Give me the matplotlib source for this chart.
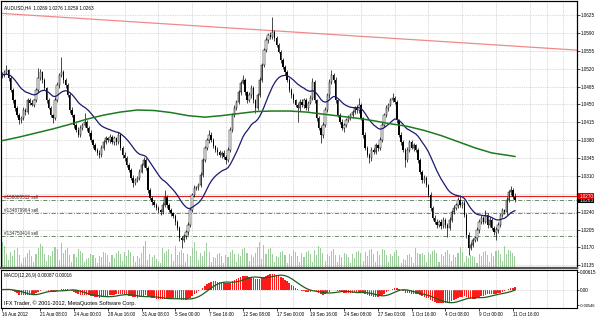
import numpy as np
import pandas as pd
import matplotlib
matplotlib.use("Agg")
import matplotlib.pyplot as plt
import matplotlib.transforms as mtrans

plt.rcParams['font.family'] = ['Liberation Sans', 'DejaVu Sans']

# header
symbol = "AUDUSD,H4"
last_ohlc = [1.0269, 1.0276, 1.0259, 1.0263]

# H4 closes, one per bar (16 Aug 08:00 .. 11 Oct 20:00)
first_open = 1.0505
closes = [
    1.0508, 1.0513, 1.0517, 1.0502, 1.0478, 1.0458, 1.0443, 1.0429, 1.0419, 1.0423, 1.0439, 1.0435, 1.0458, 1.0453, 1.0449, 1.0458,
    1.0478, 1.0502, 1.0513, 1.0498, 1.0482, 1.0458, 1.0443, 1.0429, 1.0423, 1.0458, 1.0488, 1.0508, 1.0513, 1.0498, 1.0488, 1.0468,
    1.0439, 1.0429, 1.0410, 1.0400, 1.0390, 1.0404, 1.0410, 1.0416, 1.0404, 1.0394, 1.0380, 1.0370, 1.0361, 1.0355, 1.0351, 1.0365,
    1.0376, 1.0384, 1.0380, 1.0386, 1.0376, 1.0384, 1.0376, 1.0390, 1.0365, 1.0351, 1.0345, 1.0332, 1.0322, 1.0306, 1.0296, 1.0302,
    1.0306, 1.0318, 1.0332, 1.0341, 1.0326, 1.0282, 1.0267, 1.0259, 1.0253, 1.0247, 1.0243, 1.0239, 1.0253, 1.0269, 1.0253, 1.0243,
    1.0237, 1.0231, 1.0220, 1.0208, 1.0188, 1.0185, 1.0192, 1.0200, 1.0214, 1.0243, 1.0273, 1.0286, 1.0288, 1.0292, 1.0312, 1.0341,
    1.0365, 1.0380, 1.0390, 1.0380, 1.0368, 1.0361, 1.0357, 1.0351, 1.0355, 1.0347, 1.0341, 1.0361, 1.0400, 1.0429, 1.0443, 1.0455,
    1.0474, 1.0492, 1.0498, 1.0474, 1.0458, 1.0468, 1.0482, 1.0458, 1.0443, 1.0468, 1.0498, 1.0527, 1.0556, 1.0576, 1.0586, 1.0582,
    1.0592, 1.0580, 1.0566, 1.0553, 1.0537, 1.0523, 1.0513, 1.0498, 1.0478, 1.0468, 1.0458, 1.0449, 1.0443, 1.0455, 1.0449, 1.0458,
    1.0443, 1.0453, 1.0462, 1.0494, 1.0458, 1.0423, 1.0404, 1.0390, 1.0410, 1.0439, 1.0468, 1.0494, 1.0508, 1.0498, 1.0458, 1.0429,
    1.0416, 1.0404, 1.0410, 1.0419, 1.0423, 1.0429, 1.0435, 1.0443, 1.0439, 1.0449, 1.0423, 1.0390, 1.0365, 1.0351, 1.0345, 1.0361,
    1.0357, 1.0370, 1.0365, 1.0380, 1.0410, 1.0429, 1.0443, 1.0449, 1.0458, 1.0462, 1.0455, 1.0419, 1.0390, 1.0376, 1.0361, 1.0341,
    1.0361, 1.0376, 1.0365, 1.0370, 1.0361, 1.0341, 1.0318, 1.0302, 1.0306, 1.0292, 1.0273, 1.0247, 1.0228, 1.0220, 1.0214, 1.0220,
    1.0212, 1.0224, 1.0214, 1.0208, 1.0224, 1.0239, 1.0247, 1.0253, 1.0263, 1.0253, 1.0257, 1.0234, 1.0194, 1.0169, 1.0175, 1.0185,
    1.0188, 1.0204, 1.0220, 1.0228, 1.0220, 1.0234, 1.0214, 1.0224, 1.0208, 1.0200, 1.0204, 1.0214, 1.0234, 1.0243, 1.0239, 1.0263,
    1.0278, 1.0282, 1.0269, 1.0263,
]
# upper / lower shadows in pips
wick_up = [
    6, 4, 10, 3, 4, 5, 3, 4, 5, 4, 6, 3, 5, 4, 6, 3,
    5, 19, 6, 3, 4, 3, 5, 4, 3, 6, 5, 4, 30, 5, 4, 3,
    4, 5, 3, 4, 6, 5, 4, 17, 3, 4, 5, 3, 4, 3, 5, 6,
    4, 5, 3, 6, 4, 5, 3, 6, 4, 3, 5, 4, 3, 4, 5, 4,
    3, 5, 4, 6, 4, 3, 5, 4, 3, 4, 5, 3, 6, 13, 4, 3,
    4, 3, 5, 4, 3, 4, 5, 4, 6, 5, 4, 6, 3, 5, 6, 5,
    4, 5, 10, 6, 4, 3, 5, 4, 3, 5, 4, 5, 6, 4, 5, 3,
    5, 4, 10, 4, 3, 6, 5, 4, 3, 5, 6, 4, 5, 6, 4, 5,
    29, 4, 3, 5, 4, 3, 4, 5, 3, 4, 5, 3, 4, 6, 5, 4,
    5, 4, 6, 8, 4, 3, 5, 4, 6, 5, 4, 5, 9, 4, 5, 3,
    4, 5, 3, 4, 6, 5, 4, 3, 5, 13, 4, 3, 5, 4, 3, 6,
    4, 5, 3, 6, 5, 4, 5, 3, 4, 10, 5, 4, 3, 5, 4, 3,
    6, 5, 4, 5, 3, 4, 5, 3, 6, 4, 3, 5, 4, 6, 5, 4,
    5, 6, 4, 3, 5, 4, 6, 4, 5, 10, 3, 5, 4, 6, 5, 4,
    4, 5, 6, 5, 4, 9, 3, 5, 4, 3, 5, 6, 4, 5, 3, 6,
    5, 8, 4, 7,
]
wick_dn = [
    4, 5, 3, 6, 4, 5, 6, 4, 7, 5, 3, 6, 4, 5, 3, 4,
    3, 4, 5, 6, 4, 5, 3, 4, 10, 4, 3, 5, 4, 6, 5, 4,
    5, 4, 6, 5, 4, 3, 5, 4, 6, 5, 4, 5, 3, 4, 6, 4,
    5, 4, 3, 5, 4, 6, 5, 3, 4, 5, 6, 4, 5, 4, 8, 3,
    4, 5, 3, 4, 5, 6, 4, 5, 3, 4, 6, 5, 4, 3, 5, 4,
    5, 4, 6, 4, 5, 16, 4, 6, 5, 4, 3, 5, 4, 6, 3, 4,
    3, 4, 5, 3, 4, 5, 6, 4, 5, 4, 8, 3, 4, 5, 3, 4,
    4, 5, 3, 6, 5, 4, 5, 6, 10, 4, 3, 5, 4, 3, 5, 4,
    4, 5, 4, 3, 5, 4, 6, 5, 4, 5, 6, 4, 27, 5, 4, 6,
    4, 5, 3, 4, 6, 5, 4, 16, 5, 4, 3, 5, 4, 6, 5, 4,
    5, 4, 8, 5, 4, 3, 5, 4, 6, 5, 4, 6, 5, 4, 10, 5,
    4, 5, 6, 4, 3, 5, 4, 5, 3, 4, 5, 6, 4, 5, 4, 14,
    4, 5, 3, 6, 4, 5, 4, 6, 5, 4, 5, 6, 4, 5, 6, 4,
    5, 4, 6, 18, 4, 5, 3, 4, 5, 4, 6, 5, 5, 14, 4, 5,
    4, 5, 6, 4, 5, 3, 6, 5, 4, 6, 15, 5, 4, 5, 4, 6,
    4, 5, 4, 4,
]
volumes = [
    26, 22, 14, 8,
    16, 12, 18, 20, 13, 5,
    10, 11, 15, 18, 12, 6,
    14, 20, 24, 22, 14, 7,
    13, 12, 17, 21, 19, 8,
    25, 15, 18, 20, 13, 6,
    14, 11, 19, 17, 15, 6,
    9, 10, 14, 13, 10, 5,
    12, 11, 16, 15, 13, 6,
    13, 10, 15, 17, 14, 7,
    16, 12, 18, 16, 12, 6,
    12, 10, 15, 22, 27, 8,
    14, 11, 13, 9, 7, 5,
    20, 15, 17, 19, 14, 7,
    22, 13, 16, 18, 15, 6,
    14, 12, 20, 26, 17, 8,
    15, 12, 17, 25, 16, 6,
    11, 10, 14, 15, 12, 5,
    13, 11, 16, 18, 14, 6,
    14, 12, 19, 20, 15, 7,
    13, 11, 15, 21, 26, 9,
    23, 14, 19, 20, 14, 6,
    12, 11, 16, 17, 13, 5,
    14, 12, 18, 16, 12, 6,
    15, 11, 16, 17, 14, 6,
    18, 13, 22, 20, 15, 7,
    14, 12, 17, 19, 13, 6,
    13, 11, 15, 14, 11, 5,
    14, 10, 16, 17, 15, 7,
    16, 12, 18, 19, 14, 6,
    17, 13, 19, 18, 13, 6,
    14, 12, 16, 18, 12, 5,
    9, 8, 13, 14, 11, 5,
    20, 15, 14, 15, 13, 6,
    16, 14, 17, 18, 15, 6,
    14, 12, 16, 18, 14, 7,
    13, 11, 15, 21, 16, 6,
    12, 10, 13, 12, 11, 5,
    14, 12, 16, 17, 13, 6,
    15, 12, 17, 18, 14, 7,
    22, 14, 18, 17, 15, 12,
]

# slow moving average, read every 8 bars
ma_slow_bars = [0, 8, 16, 24, 32, 40, 48, 56, 64, 72, 80, 88, 96, 104, 112, 120,
                128, 136, 144, 152, 160, 168, 176, 184, 192, 200, 208, 216, 224, 232, 240, 243]
ma_slow = [1.0379, 1.0386, 1.0394, 1.0402, 1.0411, 1.0421, 1.0429, 1.0435, 1.0439, 1.0438,
           1.0434, 1.0428, 1.0425, 1.0428, 1.0432, 1.0436, 1.0437, 1.0437, 1.0435, 1.0431,
           1.0427, 1.0423, 1.0418, 1.0412, 1.0407, 1.0399, 1.0389, 1.0377, 1.0365, 1.0355,
           1.0350, 1.0348]
ma_fast_period = 24

trend_bars = [0, 273.4]
trend_prices = [1.0628, 1.0556]

hline_price = 1.0270
order_ids = ["#158088512 sell", "#134879964 sell", "#134750414 sell"]
order_prices = [1.0263, 1.0237, 1.0192]

price_ticks = [1.0625, 1.0590, 1.0555, 1.0520, 1.0485, 1.0450, 1.0415, 1.0380,
               1.0345, 1.0310, 1.0275, 1.0240, 1.0205, 1.0170, 1.0135]
macd_ticks = [0.00615, 0.0, -0.00546]
macd_tick_labels = ["0.00615", "0.00", "-0.00546"]
macd_text = "MACD(12,26,9) 0.00087 0.00016"
copyright_text = "IFX Trader, \u00a9 2001-2012, MetaQuotes Software Corp."

date_bars = [0, 18, 34, 50, 66, 82, 98, 114, 130, 146, 162, 178, 194, 210, 226, 242]
date_labels = ["16 Aug 2012", "21 Aug 08:00", "24 Aug 00:00", "28 Aug 16:00", "31 Aug 08:00",
               "5 Sep 00:00", "7 Sep 16:00", "12 Sep 08:00", "17 Sep 00:00", "19 Sep 16:00",
               "24 Sep 08:00", "27 Sep 00:00", "1 Oct 16:00", "4 Oct 08:00", "9 Oct 00:00",
               "11 Oct 16:00"]

# ---- derived series
c = np.array(closes)
o = np.array([first_open] + closes[:-1])
hi = np.maximum(o, c) + np.array(wick_up) * 0.0001
lo = np.minimum(o, c) - np.array(wick_dn) * 0.0001
x = np.arange(len(c))
s = pd.Series(c)
ma_fast = s.ewm(span=ma_fast_period, adjust=False).mean()
macd = s.ewm(span=12, adjust=False).mean() - s.ewm(span=26, adjust=False).mean()
signal = macd.rolling(9, min_periods=1).mean()

W, H = 597, 316
fig = plt.figure(figsize=(W / 100, H / 100), dpi=100)
fig.patch.set_facecolor("white")
ax = fig.add_axes([1 / W, 1 - 268 / H, 576 / W, 267 / H])
axm = fig.add_axes([1 / W, 1 - 308 / H, 576 / W, 38 / H], sharex=ax)

fs = 3.3
grid_kw = dict(color="#b8b8b8", linestyle=(0, (1, 1.5)), linewidth=0.5)

# volumes underneath
axv = ax.twinx()
axv.bar(x, volumes, width=0.5, color="#9ccf9c", linewidth=0, zorder=1)
axv.set_ylim(0, 267)
axv.set_yticks([])
axv.set_zorder(0)
ax.set_zorder(1)
ax.patch.set_visible(False)
axv.patch.set_facecolor("white")

# candles
ax.vlines(x, lo, hi, color="black", linewidth=0.5, zorder=3)
up = c >= o
ax.bar(x[up], (c - o)[up], bottom=o[up], width=0.65, facecolor="white",
       edgecolor="black", linewidth=0.35, zorder=4)
ax.bar(x[~up], (c - o)[~up], bottom=o[~up], width=0.65, color="black",
       linewidth=0, zorder=4)

ax.plot(x, ma_fast, color="#1a1a6e", linewidth=0.9, zorder=5)
ax.plot(ma_slow_bars, ma_slow, color="#1e7a1e", linewidth=1.1, zorder=5)
ax.plot(trend_bars, trend_prices, color="#f08a8a", linewidth=0.9, zorder=2)

ax.axhline(hline_price, color="#e02020", linewidth=0.8, zorder=2)
for oid, op in zip(order_ids, order_prices):
    ax.axhline(op, color="#557755", linewidth=0.6, linestyle=(0, (5, 2, 1, 2)), zorder=2)
    ax.text(1, op + 0.00006, oid, fontsize=fs, color="#303030", va="bottom", ha="left", zorder=6)

ax.set_xlim(-0.6, 272.4)
ax.set_ylim(1.01297, 1.06524)
ax.yaxis.tick_right()
ax.set_yticks(price_ticks)
# the 1.0275 label sits under the price boxes, so it stays blank
ax.set_yticklabels(["" if abs(p - 1.0275) < 1e-6 else "%.4f" % p for p in price_ticks])
ax.tick_params(axis="y", labelsize=fs, length=2, width=0.5, pad=1, colors="black")
ax.set_xticks(date_bars)
ax.set_xticks(np.arange(2, 273, 8), minor=True)
ax.tick_params(axis="x", which="both", bottom=False, labelbottom=False)
ax.grid(axis="y", **grid_kw)
ax.grid(axis="x", which="minor", **grid_kw)
for sp in ax.spines.values():
    sp.set_linewidth(0.8)
ax.spines["bottom"].set_color("#555555")
ax.spines["bottom"].set_linewidth(1.6)

ax.text(0.005, 0.985, "%s  %.4f %.4f %.4f %.4f" % (symbol, *last_ohlc), transform=ax.transAxes,
        fontsize=fs, va="top", ha="left", zorder=6)

bt = mtrans.blended_transform_factory(ax.transAxes, ax.transData)
ax.text(1.004, last_ohlc[3] - 0.00003, "%.4f" % last_ohlc[3], transform=bt, fontsize=fs, color="white",
        va="center", ha="left", clip_on=False, zorder=7,
        bbox=dict(boxstyle="square,pad=0.18", fc="black", ec="none"))
ax.text(1.004, hline_price + 0.00005, "%.4f" % hline_price, transform=bt, fontsize=fs, color="white",
        va="center", ha="left", clip_on=False, zorder=8,
        bbox=dict(boxstyle="square,pad=0.18", fc="#e00000", ec="none"))

# MACD panel
axm.bar(x, macd, width=0.7, color="#ff1a1a", linewidth=0, zorder=2)
axm.plot(x, signal, color="#1e5e1e", linewidth=0.9, zorder=3)
axm.set_ylim(-0.0065, 0.0069)
axm.yaxis.tick_right()
axm.set_yticks(macd_ticks)
axm.set_yticklabels(macd_tick_labels)
axm.tick_params(axis="y", labelsize=fs, length=1.5, width=0.5, pad=0.6)
# widest label would run past the right edge
axm.get_yticklabels()[-1].set_fontsize(2.9)
axm.set_xticks(date_bars)
axm.set_xticklabels(date_labels, ha="left")
axm.set_xticks(np.arange(2, 273, 8), minor=True)
axm.tick_params(axis="x", which="major", labelsize=fs, length=2, width=0.5, pad=1)
axm.tick_params(axis="x", which="minor", length=0)
axm.grid(axis="x", which="minor", **grid_kw)
axm.axhline(0, **grid_kw)
for sp in axm.spines.values():
    sp.set_linewidth(0.8)
axm.text(0.005, 0.93, macd_text, transform=axm.transAxes, fontsize=fs, va="top", ha="left")
axm.text(0.005, 0.06, copyright_text, transform=axm.transAxes, fontsize=4, va="bottom", ha="left")

fig.savefig("out.png", dpi=100)
